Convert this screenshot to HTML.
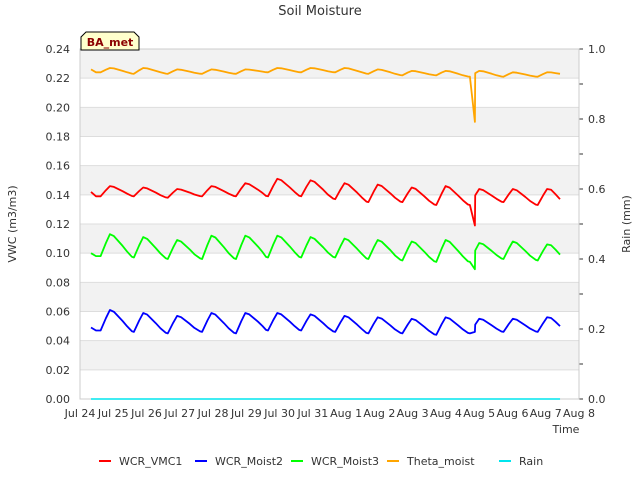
<!DOCTYPE html>
<html><head><meta charset="utf-8"><style>
body{margin:0;background:#fff;font-family:"Liberation Sans",sans-serif}
svg text{font-family:"DejaVu Sans","Liberation Sans",sans-serif}
</style></head><body>
<svg width="640" height="480" id="c">
<text x="320" y="15" text-anchor="middle" font-size="13" fill="#333">Soil Moisture</text>
<g id="bands"></g><g id="grid"></g><g id="axes"></g><g id="series"></g>
<text x="16" y="224" transform="rotate(-90 16 224)" text-anchor="middle" font-size="11" fill="#333">VWC (m3/m3)</text>
<text x="630" y="224" transform="rotate(-90 630 224)" text-anchor="middle" font-size="11" fill="#333">Rain (mm)</text>
<text x="566" y="433" text-anchor="middle" font-size="11" fill="#333">Time</text>
<g>
<path d="M81,50 L81,37 L86,32 L134,32 L139,37 L139,50 Z" fill="#ffffcc" stroke="#000" stroke-width="1"/>
<text x="110" y="46" text-anchor="middle" font-size="11" font-weight="bold" fill="#8b0000">BA_met</text></g>
<g id="legend"></g>
</svg>
<script>
const xTicks=["Jul 24","Jul 25","Jul 26","Jul 27","Jul 28","Jul 29","Jul 30","Jul 31","Aug 1","Aug 2","Aug 3","Aug 4","Aug 5","Aug 6","Aug 7","Aug 8"];
const yTicks=[0,0.02,0.04,0.06,0.08,0.10,0.12,0.14,0.16,0.18,0.20,0.22,0.24];
const y2Ticks=[0,0.2,0.4,0.6,0.8,1.0];
const peakTimes=[0.90,1.90,2.92,3.95,4.97,5.93,6.93,7.95,8.95,9.97,10.99,12.0,13.01,14.04];
const redPeaks=[0.146,0.145,0.144,0.146,0.148,0.151,0.150,0.148,0.147,0.145,0.146,0.144,0.144,0.144];
const redTroughs=[0.139,0.139,0.138,0.139,0.139,0.139,0.139,0.137,0.135,0.135,0.133,0.133,0.135,0.133];
const blueP=[0.061,0.059,0.057,0.059,0.059,0.059,0.058,0.057,0.056,0.055,0.056,0.055,0.055,0.056];
const blueT=[0.047,0.046,0.045,0.046,0.045,0.047,0.047,0.046,0.045,0.045,0.044,0.045,0.046,0.046];
const greenP=[0.113,0.111,0.109,0.112,0.112,0.112,0.111,0.110,0.109,0.108,0.109,0.107,0.108,0.106];
const greenT=[0.098,0.097,0.096,0.096,0.096,0.097,0.097,0.097,0.096,0.095,0.094,0.094,0.096,0.095];
const orangeP=[0.227,0.227,0.226,0.226,0.226,0.227,0.227,0.227,0.226,0.225,0.225,0.225,0.224,0.224];
const orangeT=[0.224,0.223,0.223,0.223,0.223,0.224,0.224,0.224,0.223,0.222,0.222,0.221,0.221,0.221];
const startVals=[0.142,0.049,0.100,0.226];
const endVals=[0.137,0.050,0.099,0.223];
const spikeTime=11.87;
const spikeVals=[0.119,0.046,0.089,0.190];
const rainVals=[0,0];
const tStart=0.33,tEnd=14.43;
const L=80,R=579,T=49,B=399,NS="http://www.w3.org/2000/svg";
const X=t=>L+t*(R-L)/15, Y=v=>B-v/0.24*(B-T), Y2=v=>B-v*(B-T);
function el(tag,a,p){const e=document.createElementNS(NS,tag);for(const k in a)e.setAttribute(k,a[k]);document.getElementById(p).appendChild(e);return e;}
for(let i=0;i<12;i+=2){const e=el('rect',{x:L,y:Y(yTicks[i+2]),width:R-L,height:Y(yTicks[i+1])-Y(yTicks[i+2]),fill:'#f2f2f2'},'bands');
}
yTicks.forEach(v=>{const g=el('line',{x1:L,x2:R,y1:Y(v),y2:Y(v),stroke:'#ddd'},'grid');
const t=el('text',{x:L-10,y:Y(v)+4,'text-anchor':'end','font-size':11,fill:'#333'},'axes');t.textContent=v.toFixed(2);
});
for(let v=0;v<=1.0001;v+=0.1){el('line',{x1:R,x2:R+4,y1:Y2(v),y2:Y2(v),stroke:'#333'},'axes');}
y2Ticks.forEach(v=>{const t=el('text',{x:R+9,y:Y2(v)+4,'font-size':11,fill:'#333'},'axes');t.textContent=v.toFixed(1);
});
el('rect',{x:L,y:T,width:R-L,height:B-T,fill:'none',stroke:'#ccc'},'axes');
xTicks.forEach((s,i)=>{
const t=el('text',{x:X(i),y:B+18,'text-anchor':'middle','font-size':11,fill:'#333'},'axes');t.textContent=s;
});
const sets=[[redPeaks,redTroughs,'#ff0000','WCR_VMC1'],[blueP,blueT,'#0000ff','WCR_Moist2'],[greenP,greenT,'#00ff00','WCR_Moist3'],[orangeP,orangeT,'#ffa500','Theta_moist']];
sets.forEach(([P,Tr,col,name],si)=>{
 let pts=[[tStart,startVals[si]],[tStart+0.15,Tr[0]]];
 for(let k=0;k<P.length;k++){
  const tp=peakTimes[k];
  pts.push([tp-0.28,Tr[k]]);pts.push([tp-0.12,Tr[k]+(P[k]-Tr[k])*0.6]);pts.push([tp,P[k]]);
  const nv=k<P.length-1?Tr[k+1]:endVals[si];
  const amp=P[k]-nv;
  pts.push([tp+0.12,P[k]-amp*0.08]);
  if(k<P.length-1){const nt=peakTimes[k+1]-0.28;
   pts.push([tp+0.38,P[k]-amp*0.5]);pts.push([tp+0.52,P[k]-amp*0.75]);pts.push([nt-0.06,nv+amp*0.03]);}
  else{pts.push([tp+0.25,P[k]-amp*0.5]);}
 }
 pts.push([tEnd,endVals[si]]);
 pts.sort((a,b)=>a[0]-b[0]);
 let d='';pts.forEach((p,i)=>{if(i>0&&pts[i-1][0]<spikeTime&&p[0]>=spikeTime){d+='L'+X(spikeTime).toFixed(1)+','+Y(spikeVals[si]).toFixed(1)+' ';}d+=(i?'L':'M')+X(p[0]).toFixed(1)+','+Y(p[1]).toFixed(1)+' ';});
 const e=el('path',{d:d,fill:'none',stroke:col,'stroke-width':1.8,'stroke-linejoin':'round'},'series');
 
});
const rn=el('line',{x1:X(tStart),x2:X(tEnd),y1:Y2(rainVals[0]),y2:Y2(rainVals[1]),stroke:'#00e5ee','stroke-width':1.5},'series');

const leg=[['WCR_VMC1','#ff0000',99],['WCR_Moist2','#0000ff',195],['WCR_Moist3','#00ff00',291],['Theta_moist','#ffa500',387],['Rain','#00e5ee',499]];
leg.forEach(([n,c,x])=>{el('line',{x1:x,x2:x+12,y1:461,y2:461,stroke:c,'stroke-width':2},'legend');
const t=el('text',{x:x+20,y:465,'font-size':11,fill:'#333'},'legend');t.textContent=n;
});
</script>
</body></html>
